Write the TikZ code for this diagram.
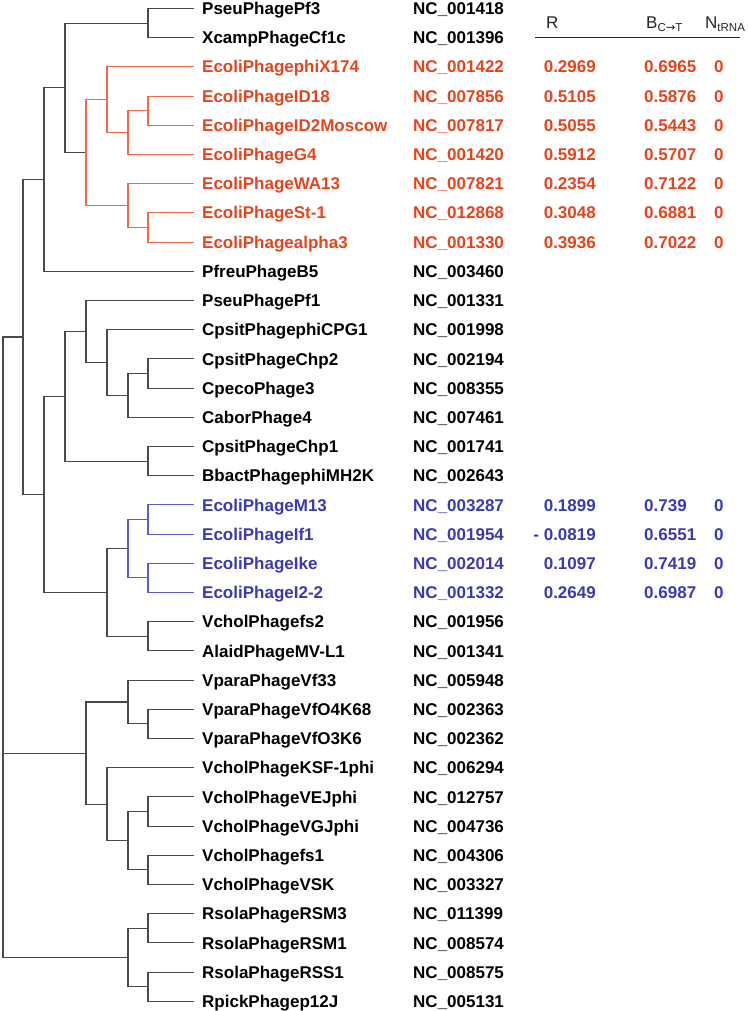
\documentclass[tikz,border=0pt]{standalone}
\usepackage{fontspec}
\setmainfont{Liberation Sans}
\newfontfamily\arrowfont{DejaVu Sans}
\usepackage{xcolor}
\usepackage{tikz}

\definecolor{treeline}{HTML}{4A4A4A}
\definecolor{redline}{HTML}{EE6A4C}
\definecolor{blueline}{HTML}{5C5CC8}
\definecolor{redclade}{HTML}{E8431C}
\definecolor{blueclade}{HTML}{3A3AB8}

\begin{document}
\begin{tikzpicture}[x=1pt, y=-29.2pt,
  branch/.style={draw=treeline, line width=1.1pt},
  redbranch/.style={draw=redline, line width=1.1pt},
  bluebranch/.style={draw=blueline, line width=1.1pt},
  label/.style={anchor=west, inner ysep=0pt, text height=12.2pt, text depth=0pt,
    font=\fontsize{17}{20}\selectfont},
  taxon/.style={label, inner xsep=8pt, font=\bfseries\fontsize{17}{20}\selectfont},
  acc/.style={label, inner xsep=0pt, font=\bfseries\fontsize{17}{20}\selectfont},
  val/.style={acc},
  head/.style={label, inner xsep=0pt, text=black!85}]

\useasboundingbox (0,-0.291) rectangle (747,34.332);

\foreach \col/\nm/\acc [count=\i from 0] in {
  black/PseuPhagePf3/NC\_001418, black/XcampPhageCf1c/NC\_001396,
  redclade/EcoliPhagephiX174/NC\_001422, redclade/EcoliPhageID18/NC\_007856,
  redclade/EcoliPhageID2Moscow/NC\_007817, redclade/EcoliPhageG4/NC\_001420,
  redclade/EcoliPhageWA13/NC\_007821, redclade/EcoliPhageSt-1/NC\_012868,
  redclade/EcoliPhagealpha3/NC\_001330, black/PfreuPhageB5/NC\_003460,
  black/PseuPhagePf1/NC\_001331, black/CpsitPhagephiCPG1/NC\_001998,
  black/CpsitPhageChp2/NC\_002194, black/CpecoPhage3/NC\_008355,
  black/CaborPhage4/NC\_007461, black/CpsitPhageChp1/NC\_001741,
  black/BbactPhagephiMH2K/NC\_002643, blueclade/EcoliPhageM13/NC\_003287,
  blueclade/EcoliPhageIf1/NC\_001954, blueclade/EcoliPhageIke/NC\_002014,
  blueclade/EcoliPhageI2-2/NC\_001332, black/VcholPhagefs2/NC\_001956,
  black/AlaidPhageMV-L1/NC\_001341, black/VparaPhageVf33/NC\_005948,
  black/VparaPhageVfO4K68/NC\_002363, black/VparaPhageVfO3K6/NC\_002362,
  black/VcholPhageKSF-1phi/NC\_006294, black/VcholPhageVEJphi/NC\_012757,
  black/VcholPhageVGJphi/NC\_004736, black/VcholPhagefs1/NC\_004306,
  black/VcholPhageVSK/NC\_003327, black/RsolaPhageRSM3/NC\_011399,
  black/RsolaPhageRSM1/NC\_008574, black/RsolaPhageRSS1/NC\_008575,
  black/RpickPhagep12J/NC\_005131}
{
  \coordinate (tip\i) at (194,\i);
  \node[taxon, text=\col] (taxon\i) at (tip\i) {\nm};
  \node[acc, text=\col] (acc\i) at (413,\i) {\acc};
}

\coordinate (n01) at (148,0.5);
\coordinate (n34) at (148,3.5);
\coordinate (n345) at (128,4.25);
\coordinate (nred1) at (107,3.125);
\coordinate (n78) at (148,7.5);
\coordinate (n678) at (128,6.75);
\coordinate (nred) at (86,4.9375);
\coordinate (nA) at (65,2.71875);
\coordinate (nB) at (44,5.859);
\coordinate (n1213) at (148,12.5);
\coordinate (n1214) at (128,13.25);
\coordinate (n1114) at (107,12.125);
\coordinate (n1014) at (86,11.0625);
\coordinate (n1516) at (148,15.5);
\coordinate (nC) at (65,13.28);
\coordinate (n1718) at (148,17.5);
\coordinate (n1920) at (148,19.5);
\coordinate (nblue) at (128,18.5);
\coordinate (n2122) at (148,21.5);
\coordinate (nD) at (107,20);
\coordinate (nE) at (44,16.64);
\coordinate (nF) at (23,11.25);
\coordinate (n2425) at (148,24.5);
\coordinate (n2325) at (128,23.75);
\coordinate (n2728) at (148,27.5);
\coordinate (n2930) at (148,29.5);
\coordinate (n2730) at (128,28.5);
\coordinate (n2630) at (107,27.25);
\coordinate (nG) at (86,25.5);
\coordinate (n3132) at (148,31.5);
\coordinate (n3334) at (148,33.5);
\coordinate (nH) at (128,32.5);
\coordinate (root) at (3,21.875);

\foreach \p/\c in {n01/tip0, n01/tip1, nA/n01, nA/nred, nB/nA, nB/tip9,
  n1213/tip12, n1213/tip13, n1214/n1213, n1214/tip14, n1114/tip11, n1114/n1214,
  n1014/tip10, n1014/n1114, n1516/tip15, n1516/tip16, nC/n1014, nC/n1516,
  n2122/tip21, n2122/tip22, nD/nblue, nD/n2122, nE/nC, nE/nD, nF/nB, nF/nE,
  n2425/tip24, n2425/tip25, n2325/tip23, n2325/n2425, n2728/tip27, n2728/tip28,
  n2930/tip29, n2930/tip30, n2730/n2728, n2730/n2930, n2630/tip26, n2630/n2730,
  nG/n2325, nG/n2630, n3132/tip31, n3132/tip32, n3334/tip33, n3334/tip34,
  nH/n3132, nH/n3334, root/nF, root/nG, root/nH}
  \draw[branch] (\p) |- (\c);

\foreach \p/\c in {n34/tip3, n34/tip4, n345/n34, n345/tip5, nred1/tip2, nred1/n345,
  n78/tip7, n78/tip8, n678/tip6, n678/n78, nred/nred1, nred/n678}
  \draw[redbranch] (\p) |- (\c);

\foreach \p/\c in {n1718/tip17, n1718/tip18, n1920/tip19, n1920/tip20,
  nblue/n1718, nblue/n1920}
  \draw[bluebranch] (\p) |- (\c);

\node[head] (hR) at (546,0.462) {R};
\node[head] (hB) at (646,0.462) {B\raisebox{-3.5pt}{\fontsize{11.5}{12}\selectfont C{\arrowfont →}T}};
\node[head] (hN) at (705,0.462) {N\raisebox{-3.5pt}{\fontsize{11.5}{12}\selectfont tRNA}};
\draw[line width=1pt, black!85] (535,1.01) -- (740,1.01);

\foreach \col/\row/\r/\b in {redclade/2/0.2969/0.6965, redclade/3/0.5105/0.5876,
  redclade/4/0.5055/0.5443, redclade/5/0.5912/0.5707, redclade/6/0.2354/0.7122,
  redclade/7/0.3048/0.6881, redclade/8/0.3936/0.7022,
  blueclade/17/0.1899/0.739, blueclade/18/- 0.0819/0.6551,
  blueclade/19/0.1097/0.7419, blueclade/20/0.2649/0.6987}
{
  \node[val, anchor=east, text=\col] (r\row) at (596,\row) {\r};
  \node[val, text=\col] (b\row) at (644,\row) {\b};
  \node[val, text=\col] (t\row) at (714,\row) {0};
}
\end{tikzpicture}
\end{document}
